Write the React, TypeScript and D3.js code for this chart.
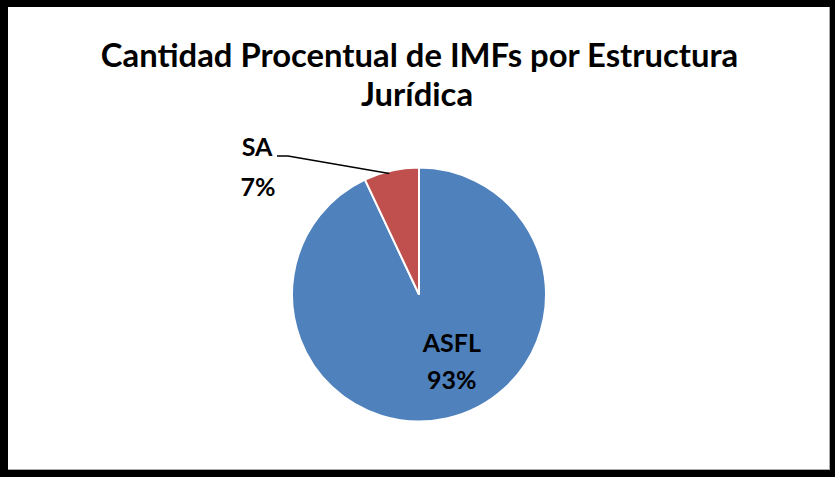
import React from "react";
import * as d3 from "d3";

const categories = ["ASFL", "SA"];
const values = [93, 7];
const percentLabels = ["93%", "7%"];
const colors = ["#4F81BD", "#C0504D"];
const titleLines = ["Cantidad Procentual de IMFs por Estructura", "Jurídica"];

const W = 837;
const H = 480;
const cx = 419;
const cy = 294.5;
const R = 127;
const FONT = "Lato, 'Open Sans', sans-serif";

export default function App() {
  const pie = d3.pie<number>().sort(null).value((d) => d)(values);
  const arc = d3.arc<d3.PieArcDatum<number>>().innerRadius(0).outerRadius(R);
  const inner = arc.centroid(pie[0]);
  const saArc = d3.arc<d3.PieArcDatum<number>>().innerRadius(R).outerRadius(R);
  const saEdge = saArc.centroid(pie[1]);
  return (
    <svg width={W} height={H} style={{ position: "absolute", left: 0, top: 0 }}>
      <rect x={0} y={0} width={835} height={477} fill="#000" />
      <rect x={8} y={7} width={822} height={463} fill="#fff" />
      <line x1={829.5} y1={7} x2={829.5} y2={470} stroke="#aaa" strokeWidth={1} />
      <line x1={8} y1={469.5} x2={830} y2={469.5} stroke="#aaa" strokeWidth={1} />
      <g fontFamily={FONT} fontWeight="bold" fill="#000" textAnchor="middle">
        <text x={419.5} y={67} fontSize={32.8}>{titleLines[0]}</text>
        <text x={417} y={106} fontSize={32.8}>{titleLines[1]}</text>
      </g>
      <g transform={`translate(${cx},${cy})`}>
        {pie.map((p, i) => (
          <path key={categories[i]} d={arc(p) || ""} fill={colors[i]} stroke="#fff" strokeWidth={2} />
        ))}
      </g>
      <polyline
        points={`277,156 288,156 ${cx + saEdge[0] - 2},${cy + saEdge[1] + 3}`}
        fill="none"
        stroke="#000"
        strokeWidth={1.5}
      />
      <g fontFamily={FONT} fontWeight="bold" fill="#000" textAnchor="middle" fontSize={25}>
        <text x={257} y={156}>{categories[1]}</text>
        <text x={258} y={196}>{percentLabels[1]}</text>
        <text x={cx + inner[0] + 19} y={352}>{categories[0]}</text>
        <text x={cx + inner[0] + 19} y={389}>{percentLabels[0]}</text>
      </g>
    </svg>
  );
}
